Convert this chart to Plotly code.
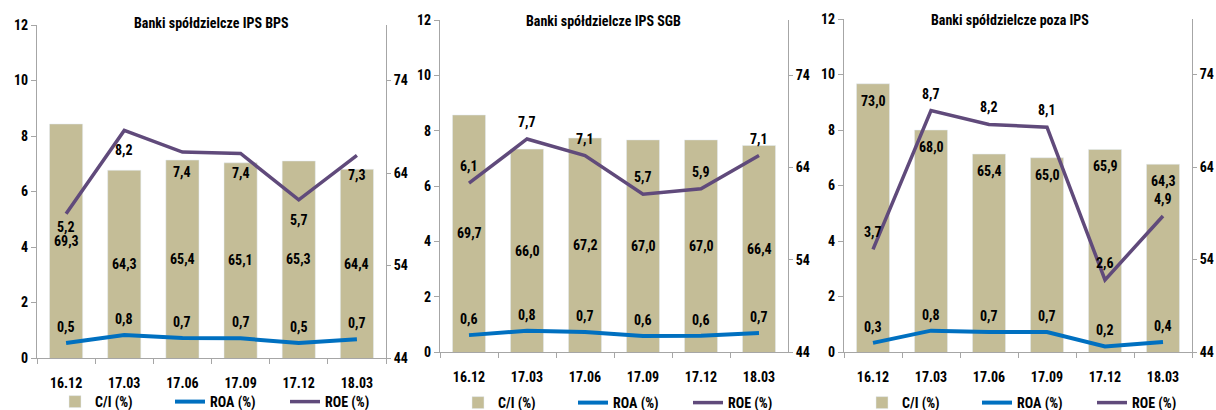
import plotly.graph_objects as go

categories = ["16.12", "17.03", "17.06", "17.09", "17.12", "18.03"]
titles = ["Banki spółdzielcze IPS BPS", "Banki spółdzielcze IPS SGB", "Banki spółdzielcze poza IPS"]

ci_bps = [69.3, 64.3, 65.4, 65.1, 65.3, 64.4]
roa_bps = [0.54, 0.83, 0.72, 0.71, 0.54, 0.68]
roe_bps = [5.2, 8.2, 7.42, 7.37, 5.7, 7.3]

ci_sgb = [69.7, 66.0, 67.2, 67.0, 67.0, 66.4]
roa_sgb = [0.61, 0.77, 0.72, 0.58, 0.59, 0.69]
roe_sgb = [6.1, 7.7, 7.1, 5.7, 5.9, 7.1]

ci_poza = [73.0, 68.0, 65.4, 65.0, 65.9, 64.3]
roa_poza = [0.33, 0.77, 0.72, 0.72, 0.2, 0.36]
roe_poza = [3.7, 8.7, 8.2, 8.1, 2.6, 4.9]

left_ticks = [0, 2, 4, 6, 8, 10, 12]
right_ticks = [44, 54, 64, 74]

W, H = 1216, 410
FONT = "Roboto Condensed, Liberation Sans Narrow, DejaVu Sans Condensed, sans-serif"
C_BAR = "#C4BD97"
C_ROA = "#0070C0"
C_ROE = "#604A7B"
AX = "#A6A6A6"


def fmt(v):
    return f"{v:.1f}".replace(".", ",")


panels = [
    dict(ci=ci_bps, roa=roa_bps, roe=roe_bps, px=(37, 386), py=(25, 358), ci_mode="middle",
         roe_shift=[-13, -20, -20, -20, -20, -20], title_x=211, title_y=23, leg_y=402),
    dict(ci=ci_sgb, roa=roa_sgb, roe=roe_sgb, px=(440, 788), py=(20, 352), ci_mode="middle",
         roe_shift=[17] * 6, title_x=603, title_y=21, leg_y=403),
    dict(ci=ci_poza, roa=roa_poza, roe=roe_poza, px=(844, 1192), py=(19, 352), ci_mode="end",
         roe_shift=[17] * 6, title_x=1010, title_y=20, leg_y=403),
]

fig = go.Figure()
annotations = []
TF = dict(family=FONT, size=14, color="black", weight=700)
layout = dict(
    width=W, height=H, margin=dict(l=0, r=0, t=0, b=0, autoexpand=False),
    paper_bgcolor="white", plot_bgcolor="white",
    font=TF, separators=",.",
    barmode="group", bargap=0.43,
)

for i, p in enumerate(panels):
    n = i + 1
    xa = "x" if n == 1 else f"x{n}"
    yb = "y" if n == 1 else f"y{2 * n - 1}"
    yl = f"y{2 * n}"
    xkey = "xaxis" if n == 1 else f"xaxis{n}"
    ybkey = "yaxis" if n == 1 else f"yaxis{2 * n - 1}"
    ylkey = f"yaxis{2 * n}"
    leg = "legend" if n == 1 else f"legend{n}"

    xd = [p["px"][0] / W, p["px"][1] / W]
    yd = [1 - p["py"][1] / H, 1 - p["py"][0] / H]

    layout[xkey] = dict(
        domain=xd, anchor=yb, type="category", categoryorder="array", categoryarray=categories,
        range=[-0.5, len(categories) - 0.5], automargin=False,
        showline=True, linecolor=AX, linewidth=1, ticks="outside", tickson="boundaries",
        ticklen=5, tickcolor=AX, showgrid=False, zeroline=False, ticklabelstandoff=12,
        tickangle=0, tickfont=TF,
    )
    layout[ybkey] = dict(
        domain=yd, anchor=xa, side="right", range=[44, 80], tickvals=right_ticks, automargin=False,
        showline=True, linecolor=AX, linewidth=1, ticks="outside", ticklen=4, tickcolor=AX,
        showgrid=False, zeroline=False, tickfont=TF,
    )
    layout[ylkey] = dict(
        domain=yd, anchor=xa, overlaying=yb, side="left", range=[0, 12], tickvals=left_ticks,
        automargin=False,
        showline=True, linecolor=AX, linewidth=1, ticks="outside", ticklen=5, tickcolor=AX,
        showgrid=False, zeroline=False, tickfont=TF,
    )
    layout[leg] = dict(
        orientation="h", x=(p["px"][0] + 41 - 23) / W, xanchor="left",
        y=1 - p["leg_y"] / H, yanchor="middle", entrywidth=70, entrywidthmode="pixels",
        font=TF, bgcolor="rgba(0,0,0,0)", itemwidth=30, tracegroupgap=0,
    )

    fig.add_trace(go.Bar(x=categories, y=p["ci"], name="C/I (%)", marker_color=C_BAR,
                         xaxis=xa, yaxis=yb, legend=leg, showlegend=True))
    fig.add_trace(go.Scatter(x=categories, y=p["roa"], name="ROA (%)", mode="lines",
                             line=dict(color=C_ROA, width=4), xaxis=xa, yaxis=yl, legend=leg))
    fig.add_trace(go.Scatter(x=categories, y=p["roe"], name="ROE (%)", mode="lines",
                             line=dict(color=C_ROE, width=3.5), xaxis=xa, yaxis=yl, legend=leg))

    for j, v in enumerate(p["ci"]):
        if p["ci_mode"] == "middle":
            annotations.append(dict(x=j, y=(v + 44) / 2, xref=xa, yref=yb, text=fmt(v),
                                    showarrow=False, font=TF))
        else:
            annotations.append(dict(x=j, y=v, xref=xa, yref=yb, text=fmt(v), yshift=-17,
                                    showarrow=False, font=TF))
    for j, v in enumerate(p["roe"]):
        annotations.append(dict(x=j, y=v, xref=xa, yref=yl, text=fmt(v), yshift=p["roe_shift"][j],
                                showarrow=False, font=TF))
    for j, v in enumerate(p["roa"]):
        annotations.append(dict(x=j, y=v, xref=xa, yref=yl, text=fmt(v), yshift=16,
                                showarrow=False, font=TF))
    annotations.append(dict(x=p["title_x"] / W, y=1 - p["title_y"] / H, xref="paper", yref="paper",
                            xanchor="center", yanchor="middle",
                            text=titles[i], showarrow=False,
                            font=dict(family=FONT, size=14, color="black", weight=700)))

layout["annotations"] = annotations
fig.update_layout(**layout)
fig.write_html(
    "out.html",
    config={"displayModeBar": False},
    post_script="document.body.style.margin='0';document.body.style.overflow='hidden';",
)
